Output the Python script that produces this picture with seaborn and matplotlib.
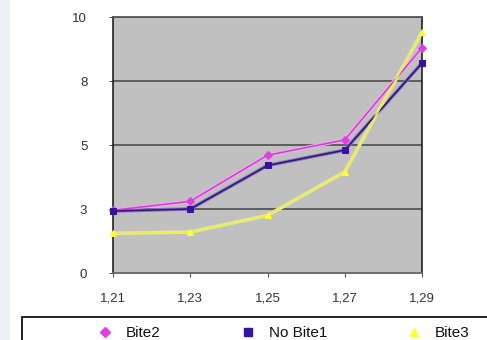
import matplotlib
matplotlib.use("Agg")
import matplotlib.pyplot as plt
from matplotlib.patches import Rectangle
from matplotlib.lines import Line2D
import seaborn as sns
import pandas as pd

categories = ["1,21", "1,23", "1,25", "1,27", "1,29"]
bite2 = [2.45, 2.8, 4.6, 5.2, 8.8]
no_bite1 = [2.42, 2.5, 4.2, 4.8, 8.2]
bite3 = [1.55, 1.6, 2.25, 3.95, 9.4]
series_names = ["Bite2", "No Bite1", "Bite3"]
ytick_vals = [0, 2.5, 5, 7.5, 10]
ytick_labels = ["0", "3", "5", "8", "10"]

rows = []
for name, vals in zip(series_names, [bite2, no_bite1, bite3]):
    for c, v in zip(categories, vals):
        rows.append({"x": c, "y": v, "series": name})
df = pd.DataFrame(rows)

sns.set_style("white")
plt.rcParams["font.family"] = ["Liberation Sans", "DejaVu Sans"]

fig = plt.figure(figsize=(4.87, 3.40), dpi=100)
fig.patch.set_facecolor("white")
fig.add_artist(Rectangle((0, 0), 10 / 487, 1, transform=fig.transFigure,
                         facecolor="#eef0f6", edgecolor="none", zorder=-5))

ax = fig.add_axes([113 / 487, 67 / 340, 309 / 487, 256 / 340])
ax.set_facecolor("#c0c0c0")

colors = {"Bite2": "#d23cd2", "No Bite1": "#2c1470", "Bite3": "#eeee44"}
markers = {"Bite2": "D", "No Bite1": "s", "Bite3": "^"}
msizes = {"Bite2": 3.8, "No Bite1": 4.3, "Bite3": 4.3}
mcolors = {"Bite2": "#e040e0", "No Bite1": "#3a10a0", "Bite3": "#ffff30"}
halo = {"Bite2": "#eeaaee", "No Bite1": "#8a70c0", "Bite3": "#e6e6a0"}

# soft halo under each line
sns.lineplot(data=df, x="x", y="y", hue="series", palette=halo,
             hue_order=series_names, ax=ax, legend=False, sort=False,
             linewidth=2.6)
n_halo = len(ax.get_lines())
sns.lineplot(data=df, x="x", y="y", hue="series", palette=colors,
             hue_order=series_names, ax=ax, legend=False, sort=False,
             linewidth=1.1)
lines = ax.get_lines()
for i, line in enumerate(lines):
    line.set_clip_on(False)
    line.set_zorder(4 if i < n_halo else 5)
for line, name in zip(lines[n_halo:], series_names):
    line.set_marker(markers[name])
    line.set_markersize(msizes[name])
    line.set_markerfacecolor(mcolors[name])
    line.set_markeredgecolor(mcolors[name])

ax.set_xlim(0, 4)
ax.set_ylim(0, 10)
ax.set_yticks(ytick_vals)
ax.set_yticklabels(ytick_labels)
ax.set_xlabel("")
ax.set_ylabel("")
for v in ytick_vals[1:]:
    ax.axhline(v, color="#555555", lw=1.3, zorder=1)

for s in ["left", "right"]:
    ax.spines[s].set_color("#111111")
    ax.spines[s].set_linewidth(1.1)
ax.spines["top"].set_color("#555555")
ax.spines["top"].set_linewidth(1.3)
ax.spines["bottom"].set_color("#666666")
ax.spines["bottom"].set_linewidth(1.3)

ax.tick_params(axis="y", left=True, length=3, width=0.8, color="#555555",
               pad=15.5, labelsize=9.5, labelcolor="#333333")
ax.tick_params(axis="x", bottom=True, length=3, width=0.8, color="#555555",
               pad=11, labelsize=9.5, labelcolor="#333333")

# legend frame (runs off the right and bottom edges as in the reference)
fig.add_artist(Rectangle((22 / 487, -0.2), 1.0, 0.2 + (340 - 317) / 340,
                         transform=fig.transFigure, facecolor="white",
                         edgecolor="#111111", linewidth=1.3, zorder=2))

handles = [Line2D([], [], color=mcolors[n], marker=markers[n], linestyle="none",
                  markersize=5.5) for n in series_names]
leg = fig.legend(handles, series_names, loc="upper left", ncol=3,
                 bbox_to_anchor=(97 / 487, 1 - 326 / 340), frameon=False,
                 fontsize=11, handletextpad=0.88, columnspacing=5.2,
                 borderpad=0, handlelength=1.0, borderaxespad=0)
leg.set_zorder(3)
for t in leg.get_texts():
    t.set_color("#111111")

fig.savefig("out.png", dpi=100, facecolor="white")
